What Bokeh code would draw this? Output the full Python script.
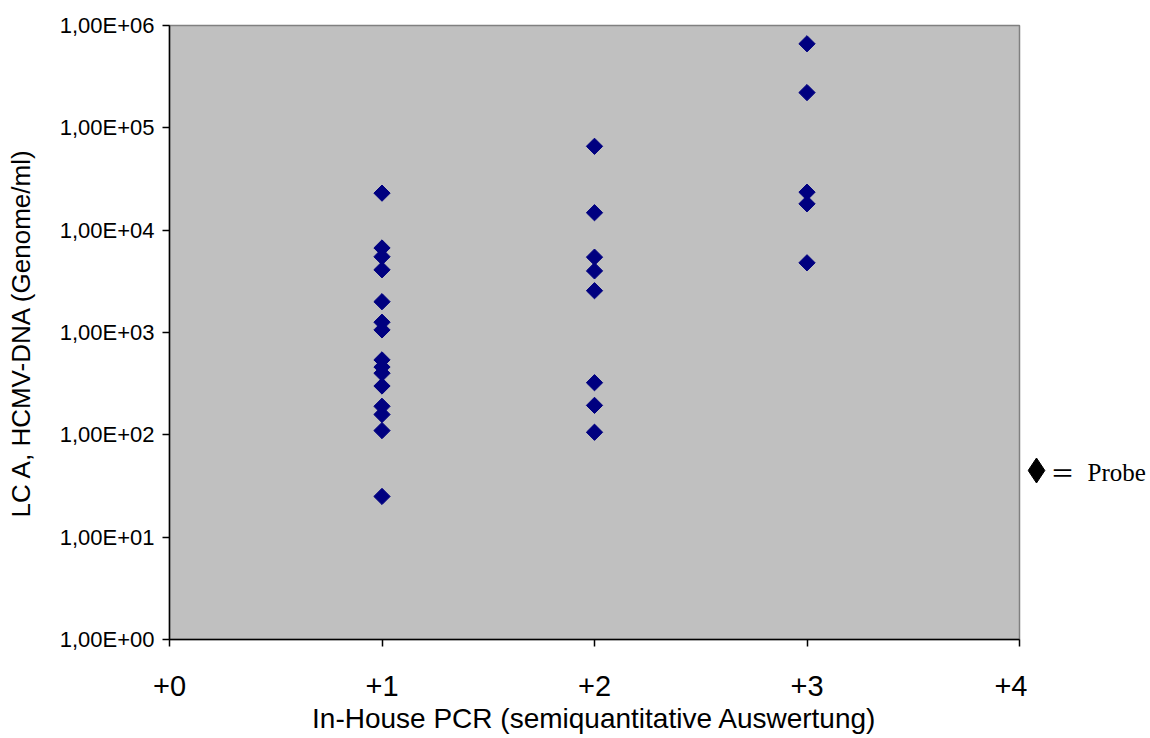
import numpy as np
from bokeh.plotting import figure
from bokeh.layouts import row
from bokeh.models import FixedTicker, CustomJSTickFormatter, Range1d
from bokeh.core.properties import value
from bokeh.embed import file_html
from bokeh.resources import INLINE

# data
x_group1 = [1] * 15
y_group1 = [23000, 6700, 5500, 4100, 2000, 1260, 1060, 540, 460, 400, 300, 190, 158, 110, 25]
x_group2 = [2] * 8
y_group2 = [66000, 14800, 5450, 4000, 2560, 323, 194, 106]
x_group3 = [3] * 5
y_group3 = [663000, 221000, 23500, 18100, 4800]

x_ticks = [0, 1, 2, 3, 4]
y_ticks = [1, 10, 100, 1000, 10000, 100000, 1000000]

legend_text = "Probe"

xs = x_group1 + x_group2 + x_group3
ys = y_group1 + y_group2 + y_group3

H = 738
W1 = 1027
W2 = 123
FRAME_TOP = 25
FRAME_BOTTOM = 639

p = figure(width=W1, height=H, output_backend="svg", toolbar_location=None,
           y_axis_type="log", x_range=Range1d(0, 4), y_range=Range1d(1, 1e6),
           min_border_left=169, min_border_right=W1 - 1019, min_border_top=FRAME_TOP,
           min_border_bottom=H - FRAME_BOTTOM)
p.background_fill_color = "#C0C0C0"
p.border_fill_color = "white"
p.outline_line_color = "#808080"
p.outline_line_width = 1.5
p.xgrid.visible = False
p.ygrid.visible = False

p.scatter(xs, ys, marker="square", angle=np.pi / 4, size=11.5,
          fill_color="#000080", line_color="#000080")

p.xaxis.ticker = FixedTicker(ticks=x_ticks)
p.yaxis.ticker = FixedTicker(ticks=y_ticks, minor_ticks=[])
p.xaxis.formatter = CustomJSTickFormatter(code="return '+' + tick.toFixed(0);")
p.yaxis.formatter = CustomJSTickFormatter(code="""
const e = Math.round(Math.log10(tick));
return '1,00E+' + (e < 10 ? '0' : '') + e;
""")
for ax in (p.xaxis[0], p.yaxis[0]):
    ax.axis_line_color = "black"
    ax.axis_line_width = 1.5
    ax.major_tick_line_color = "black"
    ax.major_tick_line_width = 1.5
    ax.major_tick_out = 7
    ax.major_tick_in = 0
    ax.minor_tick_line_color = None
    ax.major_label_text_font = "Liberation Sans"
    ax.major_label_text_color = "black"
    ax.axis_label_text_font = "Liberation Sans"
    ax.axis_label_text_font_style = "normal"
    ax.axis_label_text_color = "black"

p.xaxis.major_label_text_font_size = "29px"
p.yaxis.major_label_text_font_size = "22px"
p.xaxis.major_label_standoff = 29
p.yaxis.major_label_standoff = 8
p.xaxis.axis_label = "In-House PCR (semiquantitative Auswertung)"
p.yaxis.axis_label = "LC A, HCMV-DNA (Genome/ml)"
p.xaxis.axis_label_text_font_size = "28px"
p.yaxis.axis_label_text_font_size = "26px"
p.xaxis.axis_label_standoff = 4
p.yaxis.axis_label_standoff = 21

# legend note in a side panel; its frame is aligned with the main frame,
# so its data coordinates equal page pixels
q = figure(width=W2, height=H, output_backend="svg", toolbar_location=None,
           x_range=Range1d(1027, 1027 + W2), y_range=Range1d(FRAME_BOTTOM, FRAME_TOP),
           min_border=0, x_axis_location=None, y_axis_location=None)
q.outline_line_color = None
q.xgrid.visible = False
q.ygrid.visible = False
q.background_fill_color = "white"
q.scatter([1036], [470], marker="diamond", size=25, fill_color="black", line_color="black")
q.text([1062], [471], text=["＝"], text_font=value("Noto Sans CJK JP"), text_font_size="24px",
       text_align="center", text_baseline="middle", text_color="black")
q.text([1087], [472], text=[legend_text], text_font=value("Liberation Serif"), text_font_size="25px",
       text_align="left", text_baseline="middle", text_color="black")

layout = row(p, q, spacing=0)
open("out.html", "w").write(file_html(layout, INLINE))
